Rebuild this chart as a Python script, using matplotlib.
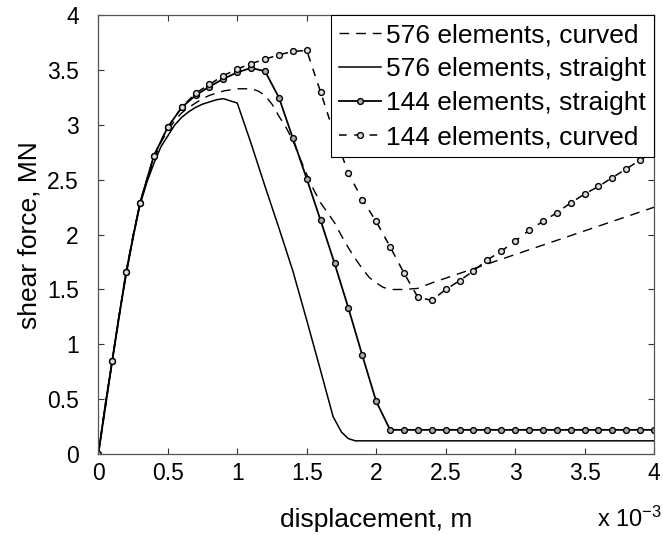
import numpy as np
import matplotlib
matplotlib.use('Agg')
import matplotlib.pyplot as plt

plt.rcParams['font.family'] = ['Liberation Sans', 'DejaVu Sans']
plt.rcParams['mathtext.fontset'] = 'custom'
plt.rcParams['mathtext.rm'] = 'Liberation Sans'
plt.rcParams['mathtext.it'] = 'Liberation Sans'

# displacement in units of 1e-3 m, shear force in MN
x_144 = [0.0, 0.1, 0.2, 0.3, 0.4, 0.5, 0.6, 0.7, 0.8, 0.9,
         1.0, 1.1, 1.2, 1.3, 1.4, 1.5, 1.6, 1.7, 1.8, 1.9,
         2.0, 2.1, 2.2, 2.3, 2.4, 2.5, 2.6, 2.7, 2.8, 2.9,
         3.0, 3.1, 3.2, 3.3, 3.4, 3.5, 3.6, 3.7, 3.8, 3.9, 4.0]
y_144_straight = [0.0, 0.85, 1.66, 2.29, 2.72, 2.98, 3.16, 3.27, 3.35, 3.42,
                  3.48, 3.52, 3.49, 3.25, 2.88, 2.51, 2.13, 1.74, 1.33, 0.90,
                  0.48, 0.22, 0.22, 0.22, 0.22, 0.22, 0.22, 0.22, 0.22, 0.22,
                  0.22, 0.22, 0.22, 0.22, 0.22, 0.22, 0.22, 0.22, 0.22, 0.22, 0.22]
y_144_curved = [0.0, 0.85, 1.66, 2.29, 2.72, 2.98, 3.16, 3.29, 3.37, 3.45,
                3.51, 3.56, 3.60, 3.64, 3.67, 3.68, 3.30, 2.91, 2.56, 2.32,
                2.12, 1.89, 1.65, 1.43, 1.40, 1.50, 1.58, 1.67, 1.77, 1.85,
                1.94, 2.04, 2.12, 2.20, 2.29, 2.37, 2.44, 2.52, 2.60, 2.68, 2.76]

x_576_straight = [0.0, 0.05, 0.1, 0.15, 0.2, 0.25, 0.3, 0.35, 0.4, 0.45,
                  0.5, 0.55, 0.6, 0.65, 0.7, 0.75, 0.8, 0.85, 0.9, 0.95,
                  1.0, 1.1, 1.2, 1.3, 1.4, 1.5, 1.6, 1.69, 1.75, 1.8, 1.85, 4.0]
y_576_straight = [0.0, 0.45, 0.85, 1.27, 1.63, 1.98, 2.27, 2.48, 2.65, 2.80,
                  2.90, 3.00, 3.07, 3.12, 3.16, 3.19, 3.21, 3.23, 3.24, 3.22,
                  3.20, 2.83, 2.44, 2.06, 1.67, 1.22, 0.76, 0.34, 0.20, 0.14, 0.12, 0.12]

x_576_curved = [0.0, 0.05, 0.1, 0.15, 0.2, 0.25, 0.3, 0.35, 0.4, 0.45,
                0.5, 0.55, 0.6, 0.65, 0.7, 0.75, 0.8, 0.85, 0.9, 0.95,
                1.0, 1.05, 1.1, 1.15, 1.2, 1.25, 1.3, 1.35, 1.4, 1.45,
                1.5, 1.55, 1.6, 1.65, 1.7, 1.75, 1.8, 1.85, 1.9, 1.95,
                2.0, 2.05, 2.1, 2.2, 2.3, 2.4, 4.0]
y_576_curved = [0.0, 0.45, 0.85, 1.27, 1.64, 2.0, 2.28, 2.50, 2.68, 2.84,
                2.95, 3.04, 3.11, 3.16, 3.20, 3.24, 3.27, 3.29, 3.31, 3.32,
                3.33, 3.33, 3.33, 3.31, 3.27, 3.19, 3.08, 2.98, 2.86, 2.70,
                2.55, 2.41, 2.29, 2.20, 2.11, 1.99, 1.88, 1.78, 1.69, 1.61,
                1.56, 1.52, 1.50, 1.50, 1.51, 1.56, 2.25]

x_ticks = [0, 0.5, 1, 1.5, 2, 2.5, 3, 3.5, 4]
x_ticklabels = ['0', '0.5', '1', '1.5', '2', '2.5', '3', '3.5', '4']
y_ticks = [0, 0.5, 1, 1.5, 2, 2.5, 3, 3.5, 4]
y_ticklabels = ['0', '0.5', '1', '1.5', '2', '2.5', '3', '3.5', '4']

fig = plt.figure(figsize=(6.63, 5.35), dpi=100)
ax = fig.add_axes([0.1483, 0.1514, 0.8382, 0.820])

ax.plot(x_576_curved, y_576_curved, color='black', lw=1.0,
        dashes=(7, 5), label='576 elements, curved')
ax.plot(x_576_straight, y_576_straight, color='black', lw=1.1,
        label='576 elements, straight')
ax.plot(x_144, y_144_straight, color='black', lw=1.3, marker='o',
        ms=4.2, mfc='#aaaaaa', mec='black', mew=1.0,
        label='144 elements, straight')
ax.plot(x_144, y_144_curved, color='black', lw=1.1, dashes=(5, 5),
        marker='o', ms=4.2, mfc='#dddddd', mec='black', mew=1.0,
        label='144 elements, curved')

ax.set_xlim(0, 4)
ax.set_ylim(0, 4)
ax.set_xticks(x_ticks)
ax.set_xticklabels(x_ticklabels)
ax.set_yticks(y_ticks)
ax.set_yticklabels(y_ticklabels)
ax.tick_params(direction='in', top=True, right=True, length=4,
               width=0.8, labelsize=16.5, color='#333333')
ax.tick_params(axis='x', pad=6)
ax.tick_params(axis='y', pad=14)
for s in ax.spines.values():
    s.set_color('#555555')
    s.set_linewidth(0.9)

ax.set_xlabel('displacement, m', fontsize=19, labelpad=16)
ax.set_ylabel('shear force, MN', fontsize=19, labelpad=4)
fig.text(0.999, 1 - 527 / 535, 'x 10$^{-3}$', ha='right', va='baseline',
         fontsize=17)

leg = ax.legend(loc='upper right', bbox_to_anchor=(1.0, 1.0),
                borderaxespad=0, fontsize=19, handlelength=1.6,
                handletextpad=0.2, borderpad=0.3, labelspacing=0.38,
                fancybox=False, framealpha=1, edgecolor='black')
leg.get_frame().set_linewidth(0.8)

fig.savefig('out.png', dpi=100)
